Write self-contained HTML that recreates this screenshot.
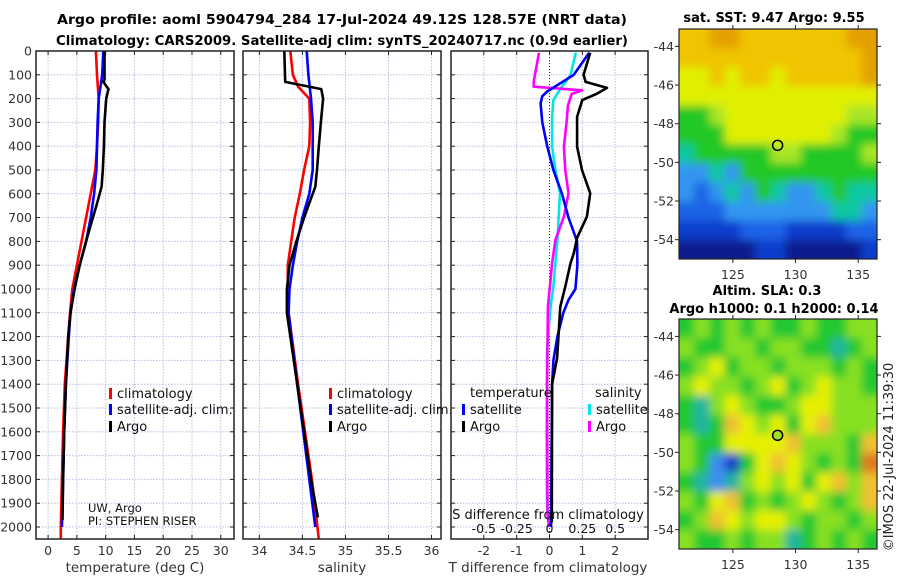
<!DOCTYPE html>
<html><head><meta charset="utf-8"><style>
html,body{margin:0;padding:0;background:#fff;}
svg{display:block;font-family:"DejaVu Sans","Liberation Sans",sans-serif;}
</style></head><body>
<svg id="fig" width="900" height="580" viewBox="0 0 900 580" xmlns="http://www.w3.org/2000/svg">
<defs>
<filter id="blurF" x="-10%" y="-10%" width="120%" height="120%"><feGaussianBlur stdDeviation="4.5"/></filter>
<clipPath id="clipM1"><rect x="679" y="29" width="198" height="230"/></clipPath>
<clipPath id="clipM2"><rect x="679" y="319" width="198" height="230"/></clipPath>
</defs>
<text x="342" y="24" text-anchor="middle" font-weight="bold" font-size="13" textLength="570" lengthAdjust="spacingAndGlyphs">Argo profile: aoml 5904794_284 17-Jul-2024 49.12S 128.57E (NRT data)</text>
<text x="342" y="45" text-anchor="middle" font-weight="bold" font-size="13" textLength="572" lengthAdjust="spacingAndGlyphs">Climatology: CARS2009. Satellite-adj clim: synTS_20240717.nc (0.9d earlier)</text>
<g id="plots"></g>
</svg>
<script>
// ---------- data ----------
const depthTicks=[0,100,200,300,400,500,600,700,800,900,1000,1100,1200,1300,1400,1500,1600,1700,1800,1900,2000];
const tempTicks=[0,5,10,15,20,25,30];
const salTicks=[34,34.5,35,35.5,36];
const tdiffTicks=[-2,-1,0,1,2];
const sdiffTicks=[-0.5,-0.25,0,0.25,0.5];

const tClimDepth=[0,100,200,300,400,500,600,700,800,900,1000,1100,1200,1400,1600,1800,2000,2050];
const tClim=[8.3,8.5,8.8,8.7,8.5,8.2,7.4,6.6,5.8,5.0,4.2,3.8,3.5,2.9,2.6,2.4,2.2,2.2];
const tSatDepth=[0,100,200,300,400,500,600,700,800,900,1000,1100,1200,1400,1600,1800,2000];
const tSat=[9.6,9.4,8.8,8.6,8.5,8.4,8.0,7.4,6.6,5.5,4.5,3.9,3.6,3.1,2.8,2.6,2.4];
const tArgoDepth=[0,120,130,160,200,300,400,500,570,650,740,800,900,1000,1100,1200,1400,1600,1800,1970];
const tArgo=[9.8,9.8,9.6,10.5,10.1,9.8,9.7,9.5,9.3,8.4,7.3,6.6,5.5,4.6,3.9,3.5,3.1,2.8,2.6,2.5];

const sClimDepth=[0,100,150,200,300,400,500,600,700,800,900,1000,1100,1400,1600,1800,2050];
const sClim=[34.36,34.39,34.45,34.58,34.59,34.58,34.52,34.47,34.41,34.37,34.33,34.33,34.34,34.45,34.53,34.61,34.69];
const sSatDepth=[0,100,200,300,500,600,700,800,900,1000,1100,1400,1600,1800,2000];
const sSat=[34.55,34.57,34.60,34.62,34.62,34.58,34.50,34.44,34.39,34.35,34.34,34.44,34.51,34.58,34.65];
const sArgoDepth=[0,130,160,200,280,400,500,570,700,800,900,1000,1100,1400,1500,1600,1800,1960];
const sArgo=[34.29,34.30,34.72,34.74,34.72,34.69,34.67,34.65,34.52,34.43,34.35,34.32,34.32,34.44,34.48,34.52,34.60,34.68];

const dDepthT=[7,100,170,190,220,300,400,500,600,700,800,900,1000,1046,1100,1200,1300,1400,1700,2000];
const dTSat=[1.21,0.74,-0.07,-0.22,-0.27,-0.22,-0.07,0.12,0.38,0.58,0.84,0.85,0.79,0.58,0.42,0.24,0.12,0.08,0.06,0.05];
const dDepthTA=[7,100,130,155,180,206,276,402,500,598,696,785,850,892,990,1074,1290,1400,1980];
const dTArgo=[1.24,1.04,1.1,1.75,1.44,1.0,0.84,0.84,0.99,1.24,1.14,0.84,0.74,0.64,0.48,0.33,0.23,0.08,0.07];
const dDepthS=[7,101,161,206,276,402,500,598,696,794,990,1074,1250,1600,1880,2000];
const dSSat=[0.2,0.16,0.08,0.03,0.02,0.02,0.045,0.08,0.07,0.06,0.03,0.008,-0.018,-0.022,-0.02,-0.005];
const dDepthSA=[7,130,150,165,180,230,300,402,500,598,696,794,892,990,1074,1400,1950,2000];
const dSArgo=[-0.08,-0.12,-0.12,0.25,0.17,0.14,0.13,0.11,0.12,0.145,0.11,0.045,0.02,0.003,-0.012,-0.018,-0.015,0];

// map grids (level indices)
const sstRows=["8899888888899","8888888888889","7787887888889","7777777777777","5567777777766","5557777777655","4555556655556","3343555555555","3234354334544","2223333333443","1111222111122","0000011000001"];
const slaRows=["3434343343344","4334434433234","3453443444343","4544345345443","3245433455444","3236545356444","4335555644436","4310356543437","3212454535646","4356343454346","3465455434434","4334344234343"];
const sstLatTicks=[-44,-46,-48,-50,-52,-54];
const lonTicks=[125,130,135];
const argoLon=[128.57];
const argoLat=[-49.12];

// ---------- helpers ----------
const NS="http://www.w3.org/2000/svg";
const root=document.getElementById('plots');
function mk(tag,attrs,parent,txt){const e=document.createElementNS(NS,tag);for(const k in attrs)e.setAttribute(k,attrs[k]);if(txt!==undefined)e.textContent=txt;(parent||root).appendChild(e);return e;}
const TOP=51,BOT=539;
function yD(d){return 51+d*0.238;}

function panel(name,x0,x1,vmin,vmax,ticks,fmt,ticksAtBottom){
  const g=mk('g',{});
  
  
  const sx=v=>x0+(v-vmin)/(vmax-vmin)*(x1-x0);
  depthTicks.forEach(d=>{const l=mk('line',{x1:x0,x2:x1,y1:yD(d),y2:yD(d),stroke:'#b8bedf','stroke-width':1,'stroke-dasharray':'1.5,1.5'},g);
    mk('line',{x1:x0,x2:x0+4,y1:yD(d),y2:yD(d),stroke:'#222'},g);mk('line',{x1:x1-4,x2:x1,y1:yD(d),y2:yD(d),stroke:'#222'},g);});
  ticks.forEach(v=>{const l=mk('line',{x1:sx(v),x2:sx(v),y1:TOP,y2:BOT,stroke:'#b8bedf','stroke-width':1,'stroke-dasharray':'1.5,1.5'},g);
    mk('line',{x1:sx(v),x2:sx(v),y1:BOT,y2:BOT-4,stroke:'#222'},g);mk('line',{x1:sx(v),x2:sx(v),y1:TOP,y2:TOP+4,stroke:'#222'},g);
    if(ticksAtBottom){const t=mk('text',{x:sx(v),y:555,'text-anchor':'middle','font-size':12.5,fill:'#333'},g,fmt(v));}});
  return {g,sx};
}
function frame(g,x0,x1){const r=mk('rect',{x:x0,y:TOP,width:x1-x0,height:BOT-TOP,fill:'none',stroke:'#222','stroke-width':1.5},g);}
function series(g,sx,depths,vals,color,name,scale){
  const pts=depths.map((d,i)=>sx(vals[i]*(scale||1)).toFixed(1)+','+yD(d).toFixed(1)).join(' ');
  const p=mk('polyline',{points:pts,fill:'none',stroke:color,'stroke-width':2.6,'stroke-linejoin':'round'},g);
  
  
}
function legendEntry(g,x,y,color,label,name){
  const e=mk('g',{},g);
  
  
  mk('rect',{x:x,y:y-9,width:3,height:11,fill:color},e);
  mk('text',{x:x+8,y:y+1,'font-size':13,fill:'#111'},e,label);
}

depthTicks.forEach(d=>{const t=mk('text',{x:32,y:yD(d)+4.5,'text-anchor':'end','font-size':12.5,fill:'#333'},root,String(d));});

const p1=panel('temperature-panel',36,234,-2.1,32.3,tempTicks,v=>String(v),true);
series(p1.g,p1.sx,tClimDepth,tClim,'#ff0000','temp-climatology-line');
series(p1.g,p1.sx,tSatDepth,tSat,'#0000ff','temp-satellite-line');
series(p1.g,p1.sx,tArgoDepth,tArgo,'#000000','temp-argo-line');
legendEntry(p1.g,109,397,'#ff0000','climatology','legend-climatology');
legendEntry(p1.g,109,413,'#0000ff','satellite-adj. clim.','legend-satellite');
legendEntry(p1.g,109,430,'#000000','Argo','legend-argo');
mk('text',{x:88,y:512,'font-size':11.5,fill:'#111'},p1.g,'UW, Argo');
mk('text',{x:88,y:525,'font-size':11.5,fill:'#111'},p1.g,'PI: STEPHEN RISER');
frame(p1.g,36,234);
mk('text',{x:135,y:572,'text-anchor':'middle','font-size':13.5,fill:'#333'},root,'temperature (deg C)');

const p2=panel('salinity-panel',243,441,33.81,36.11,salTicks,v=>String(v),true);
series(p2.g,p2.sx,sClimDepth,sClim,'#ff0000','sal-climatology-line');
series(p2.g,p2.sx,sSatDepth,sSat,'#0000ff','sal-satellite-line');
series(p2.g,p2.sx,sArgoDepth,sArgo,'#000000','sal-argo-line');
legendEntry(p2.g,329,397,'#ff0000','climatology','legend-climatology');
legendEntry(p2.g,329,413,'#0000ff','satellite-adj. clim.','legend-satellite');
legendEntry(p2.g,329,430,'#000000','Argo','legend-argo');
frame(p2.g,243,441);
mk('text',{x:342,y:572,'text-anchor':'middle','font-size':13.5,fill:'#333'},root,'salinity');

const p3=panel('difference-panel',451,648,-3,3,tdiffTicks,v=>String(v),true);
mk('line',{x1:p3.sx(0),x2:p3.sx(0),y1:TOP,y2:BOT,stroke:'#333','stroke-width':1,'stroke-dasharray':'1,2'},p3.g);
series(p3.g,p3.sx,dDepthS,dSSat,'#00e5e5','sdiff-satellite-line',4);
series(p3.g,p3.sx,dDepthSA,dSArgo,'#ff00ff','sdiff-argo-line',4);
series(p3.g,p3.sx,dDepthT,dTSat,'#0000ff','tdiff-satellite-line');
series(p3.g,p3.sx,dDepthTA,dTArgo,'#000000','tdiff-argo-line');
mk('text',{x:470,y:397,'font-size':13,fill:'#111'},p3.g,'temperature');
legendEntry(p3.g,462,413,'#0000ff','satellite','legend-tdiff-satellite');
legendEntry(p3.g,462,430,'#000000','Argo','legend-tdiff-argo');
mk('text',{x:595,y:397,'font-size':13,fill:'#111'},p3.g,'salinity');
legendEntry(p3.g,588,413,'#00e5e5','satellite','legend-sdiff-satellite');
legendEntry(p3.g,588,430,'#ff00ff','Argo','legend-sdiff-argo');
mk('text',{x:548,y:519,'text-anchor':'middle','font-size':13,fill:'#111'},p3.g,'S difference from climatology');
sdiffTicks.forEach(v=>{const t=mk('text',{x:p3.sx(v*4),y:533,'text-anchor':'middle','font-size':12.5,fill:'#111'},p3.g,String(v));});
frame(p3.g,451,648);
mk('text',{x:548,y:572,'text-anchor':'middle','font-size':13.5,fill:'#333'},root,'T difference from climatology');

const sstColors=['#0a1a8c','#0a3ccc','#1e64e6','#3296f0','#10c8a0','#22c828','#a8e628','#e0f000','#f0c400','#e4a000'];
const slaColors=['#1e3cc8','#3c8cf0','#20b4a0','#22c830','#88e020','#e6f000','#f0c030','#e07820'];
function mapPanel(name,top,bot,rows,colors,clip){
  const g=mk('g',{});
  
  
  const x0=679,x1=877,lonMin=120.7,lonMax=136.5,latTop=-43.1,latBot=-55.0;
  const sx=lon=>x0+(lon-lonMin)/(lonMax-lonMin)*(x1-x0);
  const sy=lat=>top+(latTop-lat)/(latTop-latBot)*(bot-top);
  const nr=rows.length,nc=rows[0].length,cw=(x1-x0)/nc,ch=(bot-top)/nr;
  const cg=mk('g',{'clip-path':'url(#'+clip+')'},g);
  const bg=mk('g',{filter:'url(#blurF)'},cg);
  rows.forEach((row,r)=>{for(let c=0;c<nc;c++){
    let xx=x0+c*cw, yy=top+r*ch, ww=cw+0.6, hh=ch+0.6;
    if(c===0){xx-=10;ww+=10;} if(c===nc-1){ww+=10;}
    if(r===0){yy-=10;hh+=10;} if(r===nr-1){hh+=10;}
    const cell=mk('rect',{x:xx.toFixed(2),y:yy.toFixed(2),width:ww.toFixed(2),height:hh.toFixed(2),fill:colors[+row[c]]},bg);
    
    }});
  mk('rect',{x:x0,y:top,width:x1-x0,height:bot-top,fill:'none',stroke:'#222','stroke-width':1.2},g);
  sstLatTicks.forEach(l=>{const y=sy(l);mk('line',{x1:x0,x2:x0-4,y1:y,y2:y,stroke:'#222'},g);mk('line',{x1:x1,x2:x1+4,y1:y,y2:y,stroke:'#222'},g);
    const t=mk('text',{x:x0-5,y:y+4.5,'text-anchor':'end','font-size':12.5,fill:'#333'},g,String(l));});
  lonTicks.forEach(l=>{const x=sx(l);mk('line',{x1:x,x2:x,y1:bot,y2:bot+4,stroke:'#222'},g);mk('line',{x1:x,x2:x,y1:top,y2:top-4,stroke:'#222'},g);
    const t=mk('text',{x:x,y:bot+20,'text-anchor':'middle','font-size':12.5,fill:'#333'},g,String(l));});
  return {g,sx,sy};
}
const m1=mapPanel('sst-map',29,259,sstRows,sstColors,'clipM1');
const c1=mk('circle',{cx:m1.sx(argoLon[0]),cy:m1.sy(argoLat[0]),r:5,fill:'none',stroke:'#000','stroke-width':1.5},m1.g);


mk('text',{x:774,y:22,'text-anchor':'middle','font-weight':'bold','font-size':13},m1.g,'sat. SST: 9.47 Argo: 9.55');

const m2=mapPanel('sla-map',319,549,slaRows,slaColors,'clipM2');
const c2=mk('circle',{cx:m2.sx(argoLon[0]),cy:m2.sy(argoLat[0]),r:5,fill:'#a8e020',stroke:'#000','stroke-width':1.5},m2.g);


mk('text',{x:767,y:295,'text-anchor':'middle','font-weight':'bold','font-size':13},m2.g,'Altim. SLA: 0.3');
mk('text',{x:774,y:313,'text-anchor':'middle','font-weight':'bold','font-size':13},m2.g,'Argo h1000: 0.1 h2000: 0.14');
mk('text',{x:0,y:0,'text-anchor':'middle','font-size':13,fill:'#222',transform:'translate(893,457) rotate(-90)'},root,'©IMOS 22-Jul-2024 11:39:30');
</script>
</body></html>
